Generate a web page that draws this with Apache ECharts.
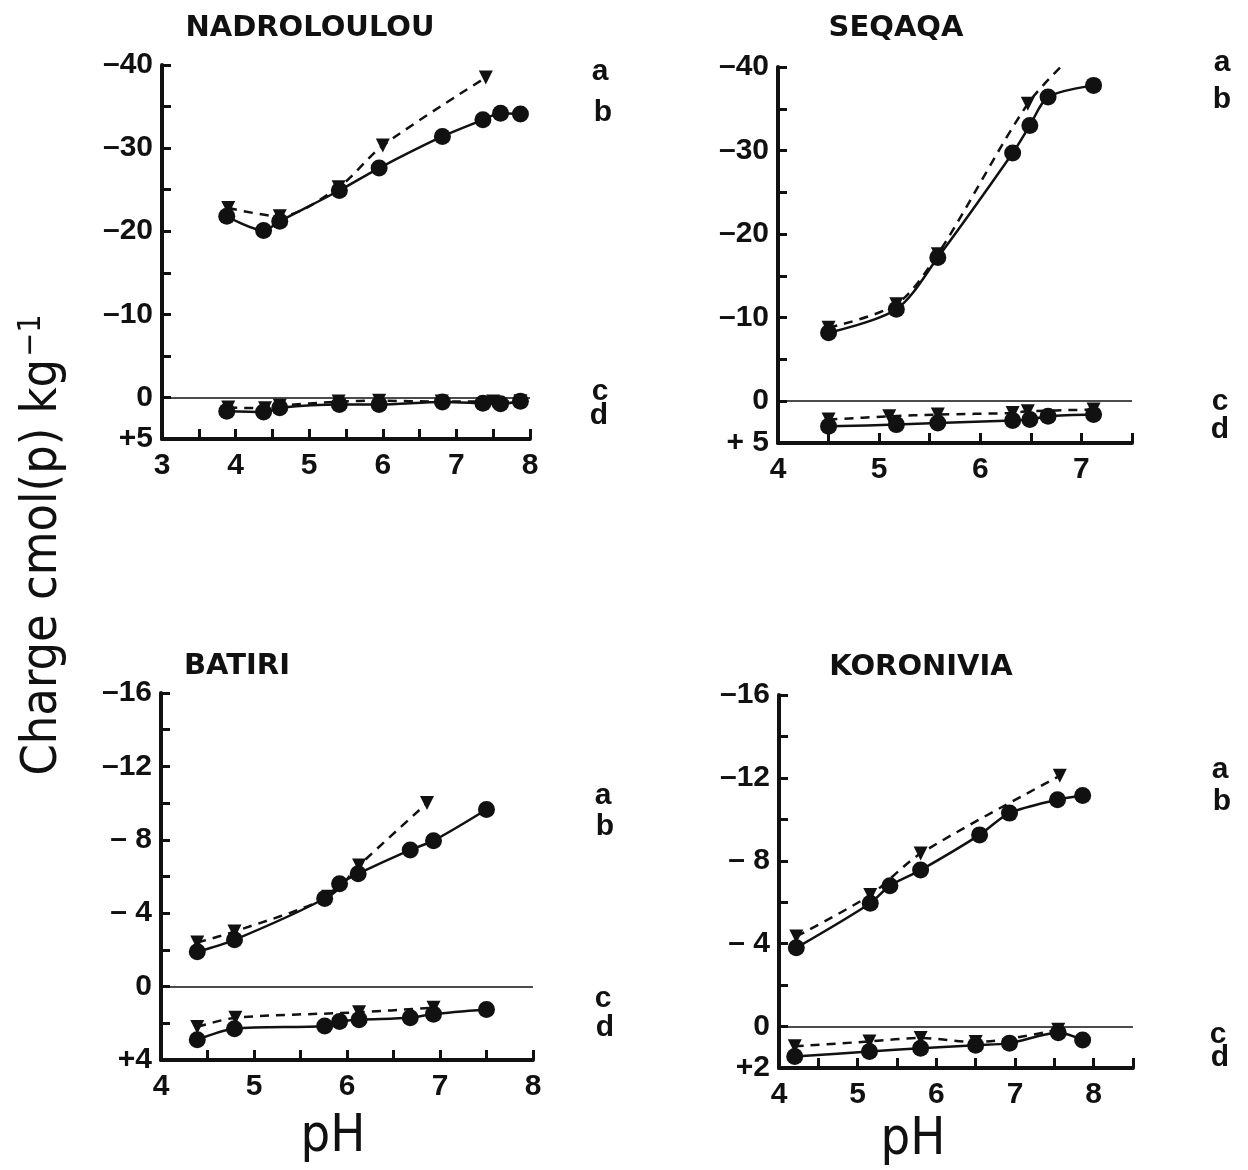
<!DOCTYPE html>
<html><head><meta charset="utf-8">
<script src="https://cdn.jsdelivr.net/npm/echarts@6/dist/echarts.min.js"></script>
<style>html,body{margin:0;padding:0;background:#fff}#c{width:1248px;height:1170px}</style>
</head><body><div id="c"></div>
<script>
// ---- data: [pH, charge] ----
// NADROLOULOU
const nadA = [[3.9,-22.8],[4.6,-21.8],[5.4,-25.3],[6.0,-30.3],[7.4,-38.5]];
const nadB = [[3.88,-21.8],[4.38,-20.1],[4.6,-21.2],[5.41,-24.9],[5.95,-27.6],[6.81,-31.4],[7.36,-33.4],[7.6,-34.2],[7.87,-34.1]];
const nadC = [[3.9,1.2],[4.4,1.3],[4.6,1.0],[5.4,0.5],[5.95,0.4],[6.8,0.5],[7.5,0.5],[7.87,0.45]];
const nadD = [[3.88,1.65],[4.38,1.75],[4.6,1.25],[5.41,0.85],[5.95,0.85],[6.81,0.55],[7.36,0.7],[7.6,0.75],[7.87,0.45]];
// SEQAQA
const seqA = [[4.5,-8.8],[5.17,-11.6],[5.58,-17.6],[6.47,-35.6],[6.92,-41.5]];
const seqB = [[4.5,-8.2],[5.17,-11.0],[5.58,-17.2],[6.32,-29.7],[6.49,-33.0],[6.67,-36.4],[7.12,-37.8]];
const seqC = [[4.5,2.2],[5.1,1.8],[5.58,1.6],[6.32,1.4],[6.47,1.2],[7.12,1.0]];
const seqD = [[4.5,3.0],[5.17,2.8],[5.58,2.6],[6.32,2.3],[6.49,2.2],[6.67,1.8],[7.12,1.6]];
// BATIRI
const batA = [[4.39,-2.4],[4.79,-3.0],[5.8,-4.9],[6.13,-6.6],[6.86,-10.0]];
const batB = [[4.39,-1.9],[4.79,-2.55],[5.76,-4.8],[5.92,-5.6],[6.12,-6.15],[6.68,-7.45],[6.93,-7.95],[7.5,-9.65]];
const batC = [[4.39,2.2],[4.8,1.7],[6.13,1.4],[6.93,1.15]];
const batD = [[4.39,2.9],[4.79,2.3],[5.76,2.15],[5.92,1.9],[6.13,1.8],[6.68,1.7],[6.93,1.5],[7.5,1.25]];
// KORONIVIA
const korA = [[4.22,-4.35],[5.16,-6.35],[5.8,-8.35],[7.57,-12.1]];
const korB = [[4.22,-3.8],[5.16,-5.95],[5.41,-6.8],[5.8,-7.55],[6.55,-9.25],[6.93,-10.3],[7.54,-10.95],[7.86,-11.15]];
const korC = [[4.2,0.95],[5.15,0.72],[5.8,0.55],[6.5,0.75],[7.55,0.15]];
const korD = [[4.2,1.45],[5.15,1.2],[5.8,1.05],[6.5,0.9],[6.93,0.8],[7.55,0.3],[7.86,0.65]];

const titles = ['NADROLOULOU','SEQAQA','BATIRI','KORONIVIA'];
const yTickLabels = [
  {'-40':'–40','-30':'–30','-20':'–20','-10':'–10','0':'0','5':'+5'},
  {'-40':'–40','-30':'–30','-20':'–20','-10':'–10','0':'0','5':'+ 5'},
  {'-16':'–16','-12':'–12','-8':'– 8','-4':'– 4','0':'0','4':'+4'},
  {'-16':'–16','-12':'–12','-8':'– 8','-4':'– 4','0':'0','2':'+2'}
];
const xTickLabels = [[3,4,5,6,7,8],[4,5,6,7],[4,5,6,7,8],[4,5,6,7,8]];
const curveNames = ['a','b','c','d'];

// ---- layout ----
const panels = [
  {left:162, top:65, width:368, height:374, xmin:3, xmax:8, ymin:-40, ymax:5, yint:5, data:[nadA,nadB,nadC,nadD]},
  {left:778, top:67, width:354, height:376, xmin:4, xmax:7.5, ymin:-40, ymax:5, yint:5, data:[seqA,seqB,seqC,seqD]},
  {left:161, top:693, width:372, height:367, xmin:4, xmax:8, ymin:-16, ymax:4, yint:2, data:[batA,batB,batC,batD]},
  {left:779, top:695, width:354, height:373, xmin:4, xmax:8.5, ymin:-16, ymax:2, yint:2, data:[korA,korB,korC,korD]}
];
const titlePos = [[310,28],[896,28],[237,666],[921,667]];
const letterPos = [
  [[600,72],[603,113],[600,392],[599,416]],
  [[1222,63],[1222,100],[1220,402],[1220,430]],
  [[603,796],[605,827],[603,999],[605,1028]],
  [[1220,770],[1222,802],[1218,1035],[1220,1058]]
];

const tickFont = "'Liberation Sans', Arial, sans-serif";
const grids = [], xAxes = [], yAxes = [], series = [], graphics = [];
panels.forEach((p, i) => {
  grids.push({left:p.left, top:p.top, width:p.width, height:p.height, outerBoundsMode:'none'});
  xAxes.push({
    type:'value', gridIndex:i, min:p.xmin, max:p.xmax, interval:0.5,
    axisLine:{onZero:false, lineStyle:{color:'#111', width:4}},
    axisTick:{inside:true, length:10, lineStyle:{color:'#111', width:3}},
    splitLine:{show:false},
    axisLabel:{
      margin:12, fontSize:30, fontWeight:'bold', color:'#111', fontFamily:tickFont,
      formatter: v => xTickLabels[i].indexOf(v) >= 0 ? String(v) : ''
    }
  });
  yAxes.push({
    type:'value', gridIndex:i, inverse:true, min:p.ymin, max:p.ymax, interval:p.yint,
    axisLine:{onZero:false, lineStyle:{color:'#111', width:4}},
    axisTick:{inside:true, length:9, lineStyle:{color:'#111', width:3}},
    splitLine:{show:false},
    axisLabel:{
      margin:9, fontSize:30, fontWeight:'bold', color:'#111', fontFamily:tickFont,
      formatter: v => yTickLabels[i][String(v)] || ''
    }
  });
  const mk = (d, dashed, tri, withZero) => {
    const s = {
      type:'line', xAxisIndex:i, yAxisIndex:i, smooth:0.3, clip:true,
      data: d.map(pt => (pt[1] < p.ymin) ? {value:pt, symbol:'none'} : pt),
      symbol: tri ? 'triangle' : 'circle',
      symbolRotate: tri ? 180 : 0,
      symbolSize: tri ? 14 : 17,
      itemStyle:{color:'#111'},
      lineStyle:{color:'#111', width:2.5, type: dashed ? [9,7] : 'solid'},
      emphasis:{disabled:true}, animation:false, z: tri ? 2 : 3
    };
    if (withZero) {
      s.markLine = {silent:true, symbol:['none','none'], label:{show:false},
        lineStyle:{type:'solid', color:'#111', width:1.5}, data:[{yAxis:0}], animation:false};
    }
    return s;
  };
  series.push(mk(p.data[0], true, true, false));
  series.push(mk(p.data[2], true, true, false));
  series.push(mk(p.data[1], false, false, true));
  series.push(mk(p.data[3], false, false, false));

  graphics.push({type:'text', x:titlePos[i][0], y:titlePos[i][1],
    style:{text:titles[i], font:"bold 29px 'DejaVu Sans', sans-serif", fill:'#111',
      align:'center', verticalAlign:'middle', textAlign:'center', textVerticalAlign:'middle'}});
  letterPos[i].forEach((lp, k) => {
    graphics.push({type:'text', x:lp[0], y:lp[1],
      style:{text:curveNames[k], font:"bold 30px 'Liberation Sans', Arial, sans-serif", fill:'#111',
        align:'center', verticalAlign:'middle', textAlign:'center', textVerticalAlign:'middle'}});
  });
});

const condFont = "'Liberation Sans Narrow', 'DejaVu Sans Condensed', 'Liberation Sans', sans-serif";
graphics.push({type:'text', x:42, y:545, rotation:Math.PI/2,
  style:{text:'{m|Charge cmol(p) kg}{s|−1}', align:'center', verticalAlign:'middle',
    textAlign:'center', textVerticalAlign:'middle',
    rich:{m:{fontSize:50, fontFamily:condFont, fill:'#111', color:'#111', verticalAlign:'bottom'},
          s:{fontSize:32, fontFamily:condFont, fill:'#111', color:'#111', verticalAlign:'bottom', padding:[0,0,20,2]}}}});
graphics.push({type:'text', x:333, y:1137, style:{text:'pH', font:"52px " + condFont, fill:'#111',
  align:'center', verticalAlign:'middle', textAlign:'center', textVerticalAlign:'middle'}});
graphics.push({type:'text', x:913, y:1140, style:{text:'pH', font:"52px " + condFont, fill:'#111',
  align:'center', verticalAlign:'middle', textAlign:'center', textVerticalAlign:'middle'}});

const chart = echarts.init(document.getElementById('c'), null, {renderer:'canvas'});
chart.setOption({
  backgroundColor:'#fff', animation:false,
  grid:grids, xAxis:xAxes, yAxis:yAxes, series:series, graphic:graphics
});
</script></body></html>
